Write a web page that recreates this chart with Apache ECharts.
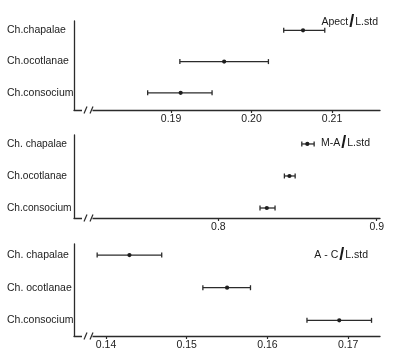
<!DOCTYPE html>
<html><head><meta charset="utf-8">
<script src="https://cdn.jsdelivr.net/npm/echarts@6/dist/echarts.min.js"></script>
<style>html,body{margin:0;padding:0;background:#fff}#c{width:398px;height:364px}</style>
</head><body><div id="c"></div>
<script>
// ---- data (bottom row first) ----
const cats1 = ['Ch.consocium', 'Ch.ocotlanae', 'Ch.chapalae'];
const low1  = [0.1871, 0.1911, 0.2040];
const mean1 = [0.1912, 0.1966, 0.2064];
const high1 = [0.1951, 0.2021, 0.2091];
const ticks1 = [0.19, 0.20, 0.21];

const cats2 = ['Ch.consocium', 'Ch.ocotlanae', 'Ch. chapalae'];
const low2  = [0.8263, 0.8417, 0.8527];
const mean2 = [0.8306, 0.8449, 0.8562];
const high2 = [0.8358, 0.8485, 0.8605];
const ticks2 = [0.8, 0.9];

const cats3 = ['Ch.consocium', 'Ch. ocotlanae', 'Ch. chapalae'];
const low3  = [0.1649, 0.1520, 0.1389];
const mean3 = [0.1689, 0.1550, 0.1429];
const high3 = [0.1729, 0.1579, 0.1469];
const ticks3 = [0.14, 0.15, 0.16, 0.17];

const titles = [['Apect', 'L.std'], ['M-A', 'L.std'], ['A - C', 'L.std']];

// ---- layout ----
const panels = [
  {cats: cats1, low: low1, mean: mean1, high: high1, ticks: ticks1, dec: 2,
   top: 21, bottom: 110, xmin: 0.17795, xmax: 0.21596, ymin: -0.55, ymax: 2.30,
   fs: 10.5, tRight: 15, tTop: 8},
  {cats: cats2, low: low2, mean: mean2, high: high2, ticks: ticks2, dec: 1,
   top: 135, bottom: 218, xmin: 0.7088, xmax: 0.9021, ymin: -0.3125, ymax: 2.28,
   fs: 10.2, tRight: 23, tTop: 129},
  {cats: cats3, low: low3, mean: mean3, high: high3, ticks: ticks3, dec: 2,
   top: 244, bottom: 336, xmin: 0.13603, xmax: 0.17395, ymin: -0.48, ymax: 2.34,
   fs: 10.5, tRight: 25, tTop: 241}
];
const LEFT = 74, RIGHT = 18;
const INK = '#2b2b2b';
const FONT = 'Liberation Sans, Arial, sans-serif';

const grid = [], xAxis = [], yAxis = [], series = [], title = [], graphic = [];
panels.forEach((p, i) => {
  grid.push({left: LEFT, right: RIGHT, top: p.top, height: p.bottom - p.top});
  xAxis.push({
    type: 'value', gridIndex: i, min: p.xmin, max: p.xmax, position: 'bottom',
    splitLine: {show: false},
    axisLine: {show: true, onZero: false, lineStyle: {color: INK, width: 1.3}},
    axisTick: {show: true, customValues: p.ticks, length: 3, lineStyle: {color: INK, width: 1.2}},
    axisLabel: {customValues: p.ticks, formatter: v => v.toFixed(p.dec), color: '#222',
      fontSize: 10.5, fontFamily: FONT, margin: 4}
  });
  yAxis.push({
    type: 'value', gridIndex: i, min: p.ymin, max: p.ymax, position: 'left',
    splitLine: {show: false},
    axisLine: {show: true, onZero: false, lineStyle: {color: INK, width: 1.3}},
    axisTick: {show: false},
    axisLabel: {customValues: [0, 1, 2], formatter: v => p.cats[Math.round(v)],
      align: 'left', margin: 67, color: '#222', fontSize: p.fs, fontFamily: FONT}
  });
  series.push({
    type: 'custom', xAxisIndex: i, yAxisIndex: i,
    encode: {x: [0, 1, 2], y: 3},
    data: p.cats.map((c, k) => [p.low[k], p.mean[k], p.high[k], k]),
    renderItem: (params, api) => {
      const y = api.value(3);
      const a = api.coord([api.value(0), y]);
      const m = api.coord([api.value(1), y]);
      const b = api.coord([api.value(2), y]);
      const st = {stroke: INK, lineWidth: 1.3};
      return {type: 'group', children: [
        {type: 'line', shape: {x1: a[0], y1: a[1], x2: b[0], y2: b[1]}, style: st},
        {type: 'line', shape: {x1: a[0], y1: a[1] - 2.5, x2: a[0], y2: a[1] + 2.5}, style: st},
        {type: 'line', shape: {x1: b[0], y1: b[1] - 2.5, x2: b[0], y2: b[1] + 2.5}, style: st},
        {type: 'circle', shape: {cx: m[0], cy: m[1], r: 2.1}, style: {fill: '#1e1e1e'}}
      ]};
    }
  });
  title.push({
    text: '{a|' + titles[i][0] + '}{s|/}{a|' + titles[i][1] + '}',
    right: p.tRight, top: p.tTop,
    textStyle: {rich: {
      a: {fontSize: 10.5, fontFamily: FONT, color: '#1a1a1a', fontWeight: 'normal'},
      s: {fontSize: 18, fontFamily: FONT, color: '#1a1a1a', padding: [0, 1, 0, 1]}
    }}
  });
  // axis-break mark
  const ay = p.bottom;
  graphic.push({type: 'rect', z: 100, shape: {x: 82, y: ay - 2, width: 10.5, height: 4}, style: {fill: '#fff'}});
  graphic.push({type: 'line', z: 101, shape: {x1: 84, y1: ay + 3.5, x2: 87, y2: ay - 3.5}, style: {stroke: INK, lineWidth: 1.2}});
  graphic.push({type: 'line', z: 101, shape: {x1: 90, y1: ay + 3.5, x2: 93, y2: ay - 3.5}, style: {stroke: INK, lineWidth: 1.2}});
});

const chart = echarts.init(document.getElementById('c'), null, {renderer: 'canvas'});
chart.setOption({animation: false, backgroundColor: '#fff', grid, xAxis, yAxis, series, title, graphic});
</script></body></html>
